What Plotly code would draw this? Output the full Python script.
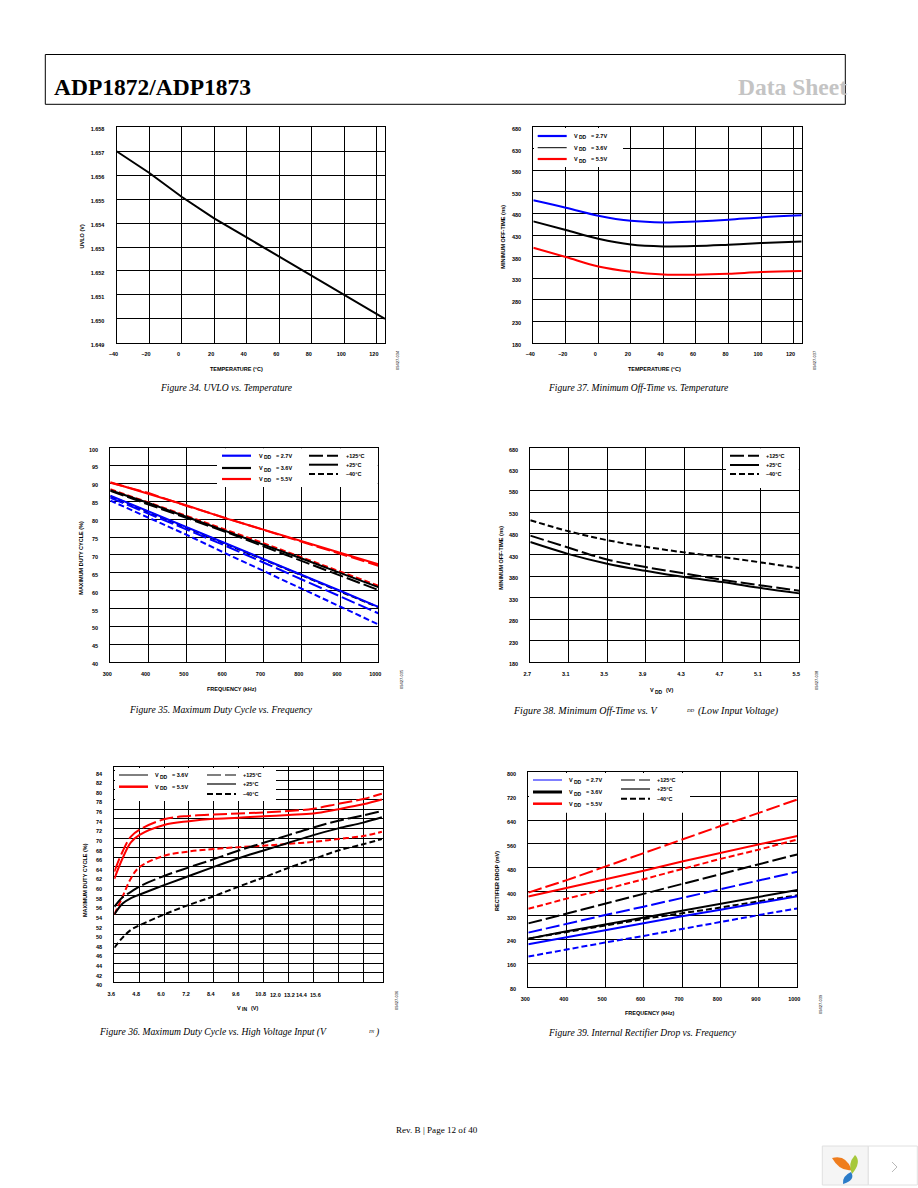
import plotly.graph_objects as go

W, H = 918, 1188
BLUE, BLACK, RED = "#0000ff", "#000000", "#ff0000"
LONG, SOLID, SHORT = "14px,4px", "solid", "6px,3px"

# ---------- data ----------
temp_axis = [-40, -20, 0, 20, 40, 60, 80, 100, 120]
uvlo_x = [-40, -20, 0, 20, 40, 60, 80, 100, 120, 125]
uvlo_y = [1.6570, 1.6561, 1.6551, 1.6542, 1.6534, 1.6526, 1.6518, 1.6510, 1.6502, 1.6500]
uvlo_ticks = [1.649, 1.650, 1.651, 1.652, 1.653, 1.654, 1.655, 1.656, 1.657, 1.658]

off_ticks = [180, 230, 280, 330, 380, 430, 480, 530, 580, 630, 680]
off_x = [-40, -20, 0, 20, 40, 60, 80, 100, 125]
off_27 = [510.5, 493.5, 475, 463, 459.4, 461.7, 465.6, 471, 475.7]
off_36 = [461.7, 441.6, 421.5, 408, 403.7, 404.5, 407.6, 411.4, 415.3]
off_55 = [400.6, 379, 357, 345, 338.7, 338, 340, 344, 346.4]

freq = [300, 400, 500, 600, 700, 800, 900, 1000]
duty_ticks = [40, 45, 50, 55, 60, 65, 70, 75, 80, 85, 90, 95, 100]
duty_55_hot = [90.2, 87.3, 83.7, 80.4, 77.1, 73.6, 70.4, 67.0]
duty_55_room = [90.3, 87.1, 83.8, 80.3, 77.0, 73.8, 70.6, 67.4]
duty_55_cold = [88.4, 84.7, 80.9, 77.1, 73.3, 69.4, 65.4, 61.4]
duty_36_hot = [87.9, 84.1, 80.3, 76.5, 72.4, 68.3, 64.2, 60.2]
duty_36_room = [88.1, 84.5, 80.6, 76.8, 73.0, 69.0, 65.0, 61.0]
duty_36_cold = [86.4, 82.0, 77.6, 73.3, 68.8, 64.3, 59.8, 55.4]
duty_27_room = [86.6, 82.2, 77.8, 73.4, 69.0, 64.5, 60.0, 55.5]
duty_27_hot = [86.0, 81.6, 77.2, 72.6, 67.9, 63.2, 58.4, 53.7]
duty_27_cold = [85.2, 80.4, 75.6, 70.5, 65.6, 60.6, 55.6, 50.6]

vdd = [2.7, 3.1, 3.5, 3.9, 4.3, 4.7, 5.1, 5.5]
offv_cold = [511, 485, 464.5, 449, 436, 425, 412.6, 399.4]
offv_hot = [475, 446.7, 419.5, 401.7, 387, 372, 359, 346.7]
offv_room = [460, 432, 409.5, 393, 378.4, 366.8, 352.9, 340.5]

vin = [3.6, 4.0, 4.4, 4.8, 6.0, 7.2, 8.4, 9.6, 10.8, 12.0, 13.2, 14.4, 15.6, 16.5]
vin_grid = [3.6, 4.8, 6.0, 7.2, 8.4, 9.6, 10.8, 12.0, 13.2, 14.4, 15.6]
vin_ticks = ["3.6", "4.8", "6.0", "7.2", "8.4", "9.6", "10.8", "12.0", "13.2", "14.4", "15.6"]
dutyhv_ticks = list(range(40, 86, 2))
hv_55_hot = [63.0, 67.2, 70.3, 71.7, 73.9, 74.6, 74.9, 75.1, 75.3, 75.6, 76.1, 77.1, 78.1, 79.2]
hv_55_room = [61.5, 65.8, 69.1, 70.6, 72.7, 73.5, 74.0, 74.2, 74.5, 74.8, 75.1, 76.0, 77.0, 78.0]
hv_55_cold = [54.1, 57.8, 61.6, 63.9, 66.3, 67.2, 67.7, 68.1, 68.4, 68.8, 69.2, 69.8, 70.4, 71.3]
hv_36_hot = [55.7, 57.7, 58.8, 59.9, 62.1, 63.9, 65.6, 67.4, 69.0, 70.6, 72.2, 73.6, 74.7, 75.6]
hv_36_room = [54.1, 56.4, 57.5, 58.2, 60.2, 62.1, 64.0, 65.8, 67.4, 69.0, 70.6, 72.0, 73.2, 74.3]
hv_36_cold = [47.2, 49.3, 50.9, 51.8, 54.1, 56.1, 57.9, 59.9, 61.8, 63.8, 65.6, 67.4, 68.7, 69.8]

drop_ticks = [80, 160, 240, 320, 400, 480, 560, 640, 720, 800]
drop_55_hot = [397, 439, 484, 530, 574, 620, 664, 709]
drop_55_room = [384, 412, 442, 470, 501, 529, 558, 587]
drop_55_cold = [343, 377, 408, 442, 476, 510, 541, 575]
drop_36_hot = [294, 327, 360, 394, 425, 459, 493, 525]
drop_36_room = [243, 268, 290, 313, 335, 359, 383, 406]
drop_36_cold = [243, 266, 287, 309, 327, 347, 368, 388]
drop_27_hot = [263, 293, 322, 350, 379, 408, 437, 467]
drop_27_room = [224, 248, 270, 294, 318, 340, 362, 385]
drop_27_cold = [183, 207, 230, 252, 276, 298, 322, 344]

# ---------- layout helpers ----------
def px(x): return x / W
def py(y): return 1 - y / H

TICK_FONT = dict(family="Liberation Sans", size=5.5, color="black", weight="bold")
shapes, annotations = [], []

def text(x, y, s, size=5.5, family="Liberation Sans", color="black", anchor="center",
         angle=0, bold=True, italic=False):
    annotations.append(dict(
        x=px(x), y=py(y), xref="paper", yref="paper", text=s, showarrow=False,
        xanchor=anchor, yanchor="middle", textangle=angle, borderpad=0, borderwidth=0,
        font=dict(family=family, size=size, color=color,
                  weight="bold" if bold else "normal",
                  style="italic" if italic else "normal")))

def white(x0, y0, x1, y1):
    shapes.append(dict(type="rect", xref="paper", yref="paper", x0=px(x0), x1=px(x1),
                       y0=py(y1), y1=py(y0), fillcolor="white", line_width=0, layer="above"))

def key(x0, x1, y, color, dash, width):
    shapes.append(dict(type="line", xref="paper", yref="paper", x0=px(x0), x1=px(x1),
                       y0=py(y), y1=py(y), layer="above",
                       line=dict(color=color, dash=dash, width=width)))

def vkey(x0, y, color, width, label, tx):
    key(x0, x0 + 29, y, color, SOLID, width)
    text(tx, y, "V", anchor="left")
    text(tx + 5, y + 1.5, "DD", size=5, anchor="left")
    text(tx + 17, y, "= " + label, anchor="left")

def tkey(x0, y, dash, width, label, tx):
    key(x0, x0 + 29, y, BLACK, dash, width)
    text(tx, y, label, anchor="left")

def path(points, color):
    d = f"M{px(points[0][0]):.5f},{py(points[0][1]):.5f}"
    for i in range(1, len(points), 2):
        a, b = points[i]; c, e = points[i + 1]
        d += f" Q{px(a):.5f},{py(b):.5f} {px(c):.5f},{py(e):.5f}"
    shapes.append(dict(type="path", xref="paper", yref="paper", path=d + " Z",
                       fillcolor=color, line_width=0, layer="above"))

PANELS = {
    1: (116.5, 385.0, 127.3, 342.8),
    2: (533.3, 801.7, 127.3, 342.8),
    3: (110.3, 378.3, 447.6, 662.3),
    4: (530.3, 799.3, 447.6, 662.3),
    5: (114.3, 383.3, 767.3, 982.3),
    6: (528.3, 797.3, 772.3, 987.3),
}

fig = go.Figure()

def axes(i, xrange, xticks, yrange, yticks, xtext=None, ytext=None, yshift=2):
    l, r, t, b = PANELS[i]
    common = dict(showline=True, mirror=True, linecolor="black", linewidth=1, showgrid=True,
                  gridcolor="black", gridwidth=1, zeroline=False, ticks="", tickfont=TICK_FONT,
                  tickmode="array")
    sfx = "" if i == 1 else str(i)
    fig.update_layout(**{
        f"xaxis{sfx}": dict(common, domain=[px(l), px(r)], range=xrange, tickvals=xticks,
                            ticktext=xtext, anchor=f"y{sfx}", ticklabelstandoff=6, ticklabelshift=-3),
        f"yaxis{sfx}": dict(common, domain=[py(b), py(t)], range=yrange, tickvals=yticks,
                            ticktext=ytext, anchor=f"x{sfx}", ticklabelstandoff=10, ticklabelshift=yshift),
    })

def curve(i, x, y, color=BLACK, dash=SOLID, width=2, name="", spline=True):
    sfx = "" if i == 1 else str(i)
    fig.add_trace(go.Scatter(x=x, y=y, mode="lines", name=name, xaxis=f"x{sfx}", yaxis=f"y{sfx}",
                             showlegend=False, hoverinfo="skip",
                             line=dict(color=color, dash=dash, width=width,
                                       shape="spline" if spline else "linear")))

def minus(v): return str(v).replace("-", "–")

# Figure 34
axes(1, [-40, 125], temp_axis, [1.649, 1.658], uvlo_ticks,
     xtext=[minus(v) for v in temp_axis], ytext=[f"{v:.3f}" for v in uvlo_ticks])
curve(1, uvlo_x, uvlo_y, width=2, name="UVLO", spline=False)

# Figure 37
axes(2, [-40, 125], temp_axis, [180, 680], off_ticks, xtext=[minus(v) for v in temp_axis])
curve(2, off_x, off_27, BLUE, name="VDD = 2.7V")
curve(2, off_x, off_36, BLACK, name="VDD = 3.6V")
curve(2, off_x, off_55, RED, name="VDD = 5.5V")

# Figure 35
axes(3, [300, 1000], freq, [40, 100], duty_ticks)
for y, c, d in [(duty_55_hot, RED, LONG), (duty_55_room, RED, SOLID), (duty_55_cold, RED, SHORT),
                (duty_36_hot, BLACK, LONG), (duty_36_room, BLACK, SOLID), (duty_36_cold, BLACK, SHORT),
                (duty_27_hot, BLUE, LONG), (duty_27_cold, BLUE, SHORT), (duty_27_room, BLUE, SOLID)]:
    curve(3, freq, y, c, d, 2, spline=False)

# Figure 38
axes(4, [2.7, 5.5], vdd, [180, 680], off_ticks)
curve(4, vdd, offv_hot, BLACK, LONG, 2)
curve(4, vdd, offv_room, BLACK, SOLID, 2)
curve(4, vdd, offv_cold, BLACK, SHORT, 2)

# Figure 36
axes(5, [3.6, 16.57], vin_grid, [40, 84.7], dutyhv_ticks,
     xtext=vin_ticks[:7] + [" "] * 4, yshift=3)
for y, c, d in [(hv_55_hot, RED, LONG), (hv_55_room, RED, SOLID), (hv_55_cold, RED, SHORT),
                (hv_36_hot, BLACK, LONG), (hv_36_room, BLACK, SOLID), (hv_36_cold, BLACK, SHORT)]:
    curve(5, vin, y, c, d, 2)
for lbl, x in zip(vin_ticks[7:], [275.7, 289, 302, 315.7]):
    text(x, 994.5, lbl)

# Figure 39
axes(6, [300, 1000], freq, [80, 800], drop_ticks)
for y, c, d in [(drop_55_hot, RED, LONG), (drop_55_room, RED, SOLID), (drop_55_cold, RED, SHORT),
                (drop_36_hot, BLACK, LONG), (drop_36_room, BLACK, SOLID), (drop_36_cold, BLACK, SHORT),
                (drop_27_hot, BLUE, LONG), (drop_27_room, BLUE, SOLID), (drop_27_cold, BLUE, SHORT)]:
    curve(6, freq, y, c, d, 2, spline=False)

# ---------- legends ----------
white(534, 128, 623, 167)
vkey(537.7, 136, BLUE, 2.2, "2.7V", 574)
vkey(537.7, 147.7, BLACK, 1, "3.6V", 574)
vkey(537.7, 159, RED, 2.2, "5.5V", 574)

white(217, 448.3, 377.8, 487)
vkey(222, 455.7, BLUE, 2.2, "2.7V", 259)
vkey(222, 468, BLACK, 2.2, "3.6V", 259)
vkey(222, 479, RED, 2.2, "5.5V", 259)
tkey(309, 455.7, LONG, 2, "+125°C", 345.7)
tkey(309, 464.7, SOLID, 2, "+25°C", 345.7)
tkey(309, 474, SHORT, 2, "–40°C", 345.7)

white(726, 448.3, 798.8, 488)
tkey(730, 455.7, LONG, 2, "+125°C", 766)
tkey(730, 465, SOLID, 2, "+25°C", 766)
tkey(730, 474, SHORT, 2, "–40°C", 766)

white(115, 768, 276, 801)
vkey(119, 775, BLACK, 1, "3.6V", 155)
vkey(119, 786.7, RED, 2.5, "5.5V", 155)
tkey(207, 775, LONG, 1.2, "+125°C", 242.7)
tkey(207, 784, SOLID, 1.2, "+25°C", 242.7)
tkey(207, 794, SHORT, 2, "–40°C", 242.7)

white(529, 773, 690, 812.7)
vkey(533, 780, BLUE, 1, "2.7V", 569)
vkey(533, 792, BLACK, 3, "3.6V", 569)
vkey(533, 803.7, RED, 2.5, "5.5V", 569)
tkey(621, 780, LONG, 1.2, "+125°C", 656.7)
tkey(621, 789, SOLID, 1.2, "+25°C", 656.7)
tkey(621, 798.7, SHORT, 2, "–40°C", 656.7)

# ---------- axis titles ----------
text(236.7, 369, "TEMPERATURE (°C)")
text(654, 369, "TEMPERATURE (°C)")
text(231.7, 688.7, "FREQUENCY (kHz)")
text(650, 690, "V", anchor="left")
text(655, 691.5, "DD", size=5, anchor="left")
text(666, 690, "(V)", anchor="left")
text(236.7, 1008, "V", anchor="left")
text(242, 1009.5, "IN", size=5, anchor="left")
text(250.7, 1008, "(V)", anchor="left")
text(650, 1012.7, "FREQUENCY (kHz)")
text(81.7, 236.7, "UVLO (V)", angle=-90)
text(503, 236.7, "MINIMUM OFF-TIME (ns)", angle=-90)
text(80.7, 558, "MAXIMUM DUTY CYCLE (%)", angle=-90)
text(500.7, 558, "MINIMUM OFF-TIME (ns)", angle=-90)
text(85, 880, "MAXIMUM DUTY CYCLE (%)", angle=-90)
text(497, 881, "RECTIFIER DROP (mV)", angle=-90)

# ---------- figure codes ----------
for x, y, code in [(398, 360, "09427-034"), (815, 360, "09427-037"), (401, 679, "09427-035"),
                   (817, 680, "09427-038"), (396, 1000, "09427-036"), (820, 1004, "09427-039")]:
    text(x, y, code, size=4, angle=-90, bold=False)

# ---------- captions ----------
SERIF = "Liberation Serif"
def cap(x, y, s, anchor="center", size=9.6):
    text(x, y, s, size=size, family=SERIF, anchor=anchor, bold=False, italic=True)

cap(226.7, 387.7, "Figure 34. UVLO vs. Temperature")
cap(638, 387.7, "Figure 37. Minimum Off-Time vs. Temperature")
cap(220.5, 709, "Figure 35. Maximum Duty Cycle vs. Frequency")
cap(513, 710.7, "Figure 38. Minimum Off-Time vs. V", "left", 10)
cap(686, 710.7, "DD", "left", 5)
cap(698, 710.7, "(Low Input Voltage)", "left", 10)
cap(99, 1031.7, "Figure 36. Maximum Duty Cycle vs. High Voltage Input (V", "left")
cap(368, 1031.7, "IN", "left", 5)
cap(375, 1031.7, ")", "left")
cap(642, 1032.7, "Figure 39. Internal Rectifier Drop vs. Frequency")

# ---------- page furniture ----------
shapes.append(dict(type="rect", xref="paper", yref="paper", x0=px(45.3), x1=px(845.3),
                   y0=py(104.3), y1=py(54.5), line=dict(color="black", width=1),
                   fillcolor="rgba(0,0,0,0)", layer="above"))
text(54, 87.3, "ADP1872/ADP1873", size=23.5, family=SERIF, anchor="left")
text(847, 87.3, "Data Sheet", size=23.5, family=SERIF, color="#c4c4c4", anchor="right")
text(436.5, 1130, "Rev. B | Page 12 of 40", size=9.1, family=SERIF, bold=False)

shapes.append(dict(type="rect", xref="paper", yref="paper", x0=px(822.3), x1=px(868.3),
                   y0=py(1185), y1=py(1146), fillcolor="#f5f5f5",
                   line=dict(color="#e0e0e0", width=1), layer="above"))
shapes.append(dict(type="rect", xref="paper", yref="paper", x0=px(868.3), x1=px(917.3),
                   y0=py(1185), y1=py(1146), fillcolor="white",
                   line=dict(color="#e0e0e0", width=1), layer="above"))
path([(832, 1158), (846, 1154), (852, 1170), (840, 1172), (832, 1158)], "#ef7d1e")
path([(855, 1155), (862, 1162), (852, 1174), (847, 1164), (855, 1155)], "#a6c83a")
path([(851, 1172), (856, 1180), (843, 1184), (842, 1176), (851, 1172)], "#2b7cc9")
shapes.append(dict(type="path", xref="paper", yref="paper", layer="above",
                   path=f"M{px(892):.5f},{py(1162):.5f} L{px(897):.5f},{py(1167):.5f} L{px(892):.5f},{py(1172):.5f}",
                   line=dict(color="#b8b8b8", width=1)))

fig.update_layout(width=W, height=H, margin=dict(l=0, r=0, t=0, b=0, pad=0, autoexpand=False), autosize=False,
                  paper_bgcolor="white", plot_bgcolor="white", showlegend=False,
                  shapes=shapes, annotations=annotations)

fig.write_html("out.html", config={"displayModeBar": False},
               post_script="document.body.style.margin='0';")
